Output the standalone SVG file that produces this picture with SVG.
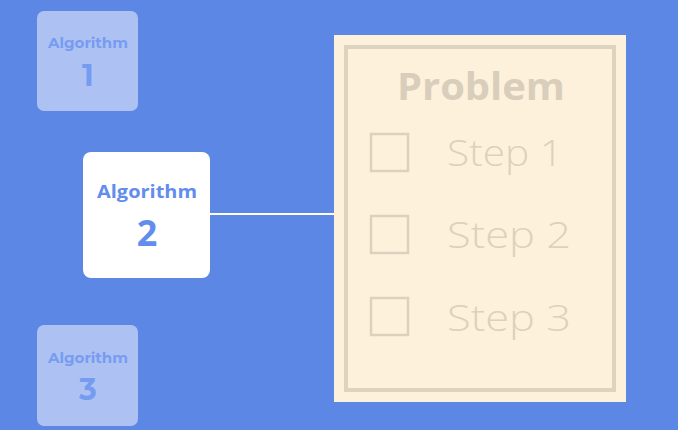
<svg xmlns="http://www.w3.org/2000/svg" width="678" height="430" viewBox="0 0 678 430">
<style>
.faded{fill:#adc1f3}
.fadedtxt{fill:#769cf2;font-family:"Montserrat","Open Sans","Liberation Sans",sans-serif;font-weight:bold;text-anchor:middle}
.acttxt{fill:#628ded;font-family:"Open Sans","Liberation Sans",sans-serif;font-weight:bold;text-anchor:middle}
.step{fill:#dbd1be;font-family:"Open Sans","Liberation Sans",sans-serif;font-weight:300;font-size:37px}
.chk{fill:none;stroke:#dbd1be;stroke-width:2.5}
</style>
<rect width="678" height="430" fill="#5c87e4"/>
<g id="connectors">
<line x1="210" y1="214" x2="334" y2="214" stroke="#ffffff" stroke-width="2"/>
</g>
<g id="algorithm1">
<rect class="faded" x="37" y="11" width="101" height="100" rx="7"/>
<text class="fadedtxt" x="88" y="48" font-size="15" textLength="80" lengthAdjust="spacingAndGlyphs">Algorithm</text>
<text class="fadedtxt" x="88" y="86" font-size="30">1</text>
</g>
<g id="algorithm2">
<rect x="83" y="152" width="127" height="126" rx="8" fill="#ffffff"/>
<text class="acttxt" x="147" y="198" font-size="18" textLength="100" lengthAdjust="spacingAndGlyphs">Algorithm</text>
<text class="acttxt" x="147" y="246" font-size="36">2</text>
</g>
<g id="algorithm3">
<rect class="faded" x="37" y="325" width="101" height="101" rx="7"/>
<text class="fadedtxt" x="88" y="363" font-size="15" textLength="80" lengthAdjust="spacingAndGlyphs">Algorithm</text>
<text class="fadedtxt" x="88" y="400" font-size="30">3</text>
</g>
<g id="problem">
<rect x="334" y="35" width="292" height="367" fill="#fdf1dc"/>
<rect x="346" y="47" width="268" height="343" fill="none" stroke="#ddd3c0" stroke-width="4"/>
<text x="481" y="100" fill="#d8cebb" font-family="'Open Sans','Liberation Sans',sans-serif" font-weight="bold" font-size="38" text-anchor="middle" textLength="168" lengthAdjust="spacingAndGlyphs">Problem</text>
<rect class="chk" x="371" y="134" width="37" height="37"/>
<text class="step" x="447" y="166" textLength="116" lengthAdjust="spacingAndGlyphs">Step 1</text>
<rect class="chk" x="371" y="216" width="37" height="37"/>
<text class="step" x="447" y="248" textLength="124" lengthAdjust="spacingAndGlyphs">Step 2</text>
<rect class="chk" x="371" y="298" width="37" height="37"/>
<text class="step" x="447" y="331" textLength="124" lengthAdjust="spacingAndGlyphs">Step 3</text>
</g>
</svg>
